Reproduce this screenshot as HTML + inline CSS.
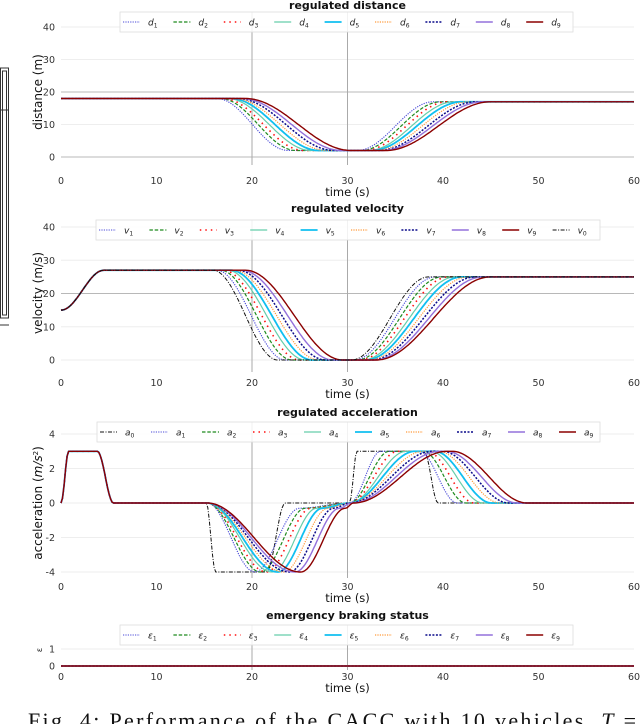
<!DOCTYPE html>
<html><head><meta charset="utf-8"><style>
html,body{margin:0;padding:0;background:#fff;width:640px;height:724px;overflow:hidden}
svg{display:block}
text{font-family:"DejaVu Sans","Liberation Sans",sans-serif}
</style></head><body>
<svg id="chart" width="640" height="724" viewBox="0 0 640 724">
<g fill="none" stroke="#333" stroke-width="1">
<rect x="0.5" y="68" width="8" height="250"/><rect x="2.5" y="71" width="4" height="244"/>
<line x1="0" y1="110" x2="9" y2="110"/><line x1="0" y1="325" x2="9" y2="325"/>
</g>
<text x="28" y="728" font-size="22" fill="#111" textLength="608" lengthAdjust="spacing" style="font-family:'Liberation Serif',serif">Fig. 4: Performance of the CACC with 10 vehicles, <tspan font-style="italic">T</tspan> =</text>
</svg>
<script>
// ---- data ----
const xTicks = [0,10,20,30,40,50,60];
const distTicks = [0,10,20,30,40];
const velTicks = [0,10,20,30,40];
const accTicks = [-4,-2,0,2,4];
const ebTicks = [0,1];
// distance: levels at key points, key times per vehicle d1..d9
const distLevels = [18,18,2,2,17,17];
const distKeyTimes = [
 [0,16.3,23.8,31.0,39.0,60],[0,16.7,24.6,31.4,39.8,60],[0,17.0,25.4,31.8,40.5,60],
 [0,17.4,26.2,32.2,41.2,60],[0,17.8,27.0,32.5,42.0,60],[0,18.1,27.8,32.9,42.7,60],
 [0,18.5,28.6,33.3,43.5,60],[0,18.9,29.4,33.6,44.2,60],[0,19.3,30.4,34.0,45.0,60]];
// velocity v1..v9 then v0
const velLevels = [15,27,27,0,0,25,25];
const velKeyTimes = [
 [0,4.5,16.3,23.5,30.7,39.2,60],[0,4.5,16.7,24.2,31.0,39.9,60],[0,4.5,17.0,25.0,31.3,40.6,60],
 [0,4.5,17.4,25.6,31.6,41.3,60],[0,4.5,17.8,26.3,31.9,42.0,60],[0,4.5,18.1,27.0,32.2,42.7,60],
 [0,4.5,18.5,27.7,32.5,43.4,60],[0,4.5,18.9,28.5,32.8,44.2,60],[0,4.5,19.3,29.5,33.0,45.0,60],
 [0,4.5,15.9,22.7,30.4,38.5,60]];
// acceleration: leader a0 has its own profile
const accLeaderLevels = [0,3,3,0,0,-4,-4,0,0,3,3,0,0];
const accLeaderTimes = [0,0.8,3.8,5.5,15.2,16.2,21.5,23.5,30.2,31.0,38.0,39.5,60];
// followers a1..a9
const accLevels = [0,3,3,0,0,-4,-0.3,0,3,3,0,0];
const accKeyTimes = [
 [0,0.8,3.8,5.5,15.3,20.3,25.0,30.2,33.5,37.5,41.5,60],
 [0,0.8,3.8,5.5,15.3,20.9,25.6,30.2,34.4,37.9,42.4,60],
 [0,0.8,3.8,5.5,15.3,21.5,26.2,30.2,35.3,38.3,43.3,60],
 [0,0.8,3.8,5.5,15.3,22.1,26.8,30.2,36.2,38.7,44.2,60],
 [0,0.8,3.8,5.5,15.3,22.7,27.4,30.2,37.1,39.1,45.1,60],
 [0,0.8,3.8,5.5,15.3,23.3,28.0,30.2,38.0,39.5,46.0,60],
 [0,0.8,3.8,5.5,15.3,23.9,28.6,30.2,38.9,39.9,46.9,60],
 [0,0.8,3.8,5.5,15.3,24.5,29.2,30.4,39.7,40.3,47.8,60],
 [0,0.8,3.8,5.5,15.3,25.1,29.8,30.6,40.5,40.9,48.8,60]];
const ebLevels = [0,0];
const ebKeyTimes = [0,60];

// ---- styles ----
const ST = {
 0:{c:'#111',w:1,d:'4,1.5,1,1.5'},1:{c:'#4848d8',w:1.1,d:'1.2,1.2'},2:{c:'#1f8a1f',w:1.2,d:'3.5,1.8'},
 3:{c:'#ff1010',w:1.6,d:'1.5,4'},4:{c:'#66cdaa',w:1.2,d:''},5:{c:'#10bff0',w:1.8,d:''},
 6:{c:'#ff9a3a',w:1.2,d:'1.2,1.2'},7:{c:'#0a0a8a',w:1.5,d:'2,1.5'},8:{c:'#9370db',w:1.4,d:''},9:{c:'#8b0000',w:1.4,d:''}};

const NS='http://www.w3.org/2000/svg';
const svg=document.getElementById('chart');
function el(tag,attrs,parent){const e=document.createElementNS(NS,tag);for(const k in attrs)e.setAttribute(k,attrs[k]);(parent||svg).appendChild(e);return e;}
const X0=61,X1=634;
function xs(t){return X0+(t/60)*(X1-X0);}
function curve(times,levels){
 const pts=[];
 for(let k=0;k<times.length-1;k++){
  const t0=times[k],t1=times[k+1],v0=levels[k],v1=levels[k+1];
  const n=Math.max(2,Math.ceil((t1-t0)*6));
  for(let j=0;j<n;j++){const u=j/n;pts.push([t0+(t1-t0)*u,v0+(v1-v0)*(1-Math.cos(Math.PI*u))/2]);}
 }
 pts.push([times[times.length-1],levels[levels.length-1]]);
 return pts;
}
function panel(o){
 const g=el('g',{});
 
 
 const ys=v=>o.y0-(v-o.vmin)*o.k;
 o.yticks.forEach(v=>{
  const l=el('line',{x1:X0,x2:X1,y1:ys(v),y2:ys(v),stroke:(o.dark.includes(v)?'#b8b8b8':'#eeeeee'),'stroke-width':1},g);
  
  
  const t=el('text',{x:55,y:ys(v)+3.5,'text-anchor':'end','font-size':9.5,fill:'#333'},g);
  t.textContent=v;
  
  
 });
 [20,30].forEach(v=>{
  const l=el('line',{x1:xs(v),x2:xs(v),y1:o.legY,y2:o.axB,stroke:'#aaa','stroke-width':1},g);
  
  
 });
 xTicks.forEach(v=>{
  const t=el('text',{x:xs(v),y:o.tickY,'text-anchor':'middle','font-size':9.5,fill:'#333'},g);
  t.textContent=v;
  
  
 });
 const xl=el('text',{x:xs(30),y:o.tickY+12,'text-anchor':'middle','font-size':11.5,fill:'#111'},g);
 xl.textContent='time (s)';
 
 
 const yl=el('text',{x:0,y:0,'text-anchor':'middle','font-size':o.ylSize||12,fill:'#111',transform:`translate(${o.ylX||42},${o.ylY}) rotate(-90)`},g);
 yl.innerHTML=o.ylabel;
 
 
 const ti=el('text',{x:xs(30),y:o.titleY,'text-anchor':'middle','font-size':11,'font-weight':'bold',fill:'#111'},g);
 ti.textContent=o.title;
 
 
 o.series.forEach((s,i)=>{
  const st=ST[s.style];
  const pts=curve(s.times,s.levels);
  const p=el('path',{d:'M'+pts.map(q=>xs(q[0]).toFixed(1)+','+ys(q[1]).toFixed(1)).join('L'),fill:'none',stroke:st.c,'stroke-width':st.w,'stroke-dasharray':st.d,'stroke-linejoin':'round'},g);
  
  
 });
 const lg=el('g',{},g);
 
 
 el('rect',{x:o.legX,y:o.legY,width:o.legW,height:20,fill:'#fff','fill-opacity':0.85,stroke:'#ddd','stroke-width':0.8},lg);
 o.series.forEach((s,i)=>{
  const st=ST[s.style];const lx=o.legX+3+i*o.legStep, ly=o.legY+10;
  const ln=el('line',{x1:lx,x2:lx+17,y1:ly,y2:ly,stroke:st.c,'stroke-width':st.w,'stroke-dasharray':st.d},lg);
  
  
  const tx=el('text',{x:lx+25,y:ly+3.5,'font-size':9,fill:'#222'},lg);
  tx.innerHTML=s.label;
  
  
 });
}
const sub=(a,n)=>`<tspan font-style="italic">${a}</tspan><tspan font-size="6" dy="2">${n}</tspan>`;
panel({name:'distance-panel',title:'regulated distance',titleY:9,y0:157,vmin:0,k:3.25,yticks:distTicks,dark:[0,20],
 tickY:184,ylabel:'distance (m)',ylY:92,legX:120,legY:12,legW:453,legStep:50.4,axB:165,
 series:distKeyTimes.map((t,i)=>({key:'d'+(i+1),style:i+1,times:t,levels:distLevels,label:sub('d',i+1)}))});
panel({name:'velocity-panel',title:'regulated velocity',titleY:212,y0:360,vmin:0,k:3.325,yticks:velTicks,dark:[20],
 tickY:386,ylabel:'velocity (m/s)',ylY:293,legX:96,legY:220,legW:504,legStep:50.4,axB:372,
 series:velKeyTimes.map((t,i)=>({key:'v'+(i<9?i+1:0),style:i<9?i+1:0,times:t,levels:velLevels,label:sub('v',i<9?i+1:0)}))});
const accSeries=[{key:'a0',style:0,times:accLeaderTimes,levels:accLeaderLevels,label:sub('a',0)}]
 .concat(accKeyTimes.map((t,i)=>({key:'a'+(i+1),style:i+1,times:t,levels:accLevels,label:sub('a',i+1)})));
panel({name:'acceleration-panel',title:'regulated acceleration',titleY:416,y0:572,vmin:-4,k:17.25,yticks:accTicks,dark:[],
 tickY:590,ylabel:'acceleration (<tspan font-style="italic">m/s</tspan><tspan font-size="7" dy="-4">2</tspan><tspan dy="4">)</tspan>',ylY:503,legX:97,legY:422,legW:503,legStep:51,axB:578,
 series:accSeries});
panel({name:'emergency-panel',title:'emergency braking status',titleY:619,y0:666,vmin:0,k:17,yticks:ebTicks,dark:[],
 tickY:680,ylabel:'ε',ylSize:8,ylY:650,legX:120,legY:625,legW:453,legStep:50.4,axB:670,
 series:[1,2,3,4,5,6,7,8,9].map(i=>({key:'eb'+i,style:i,times:ebKeyTimes,levels:ebLevels,label:'<tspan font-style="italic">ε</tspan><tspan font-size="6" dy="2">'+i+'</tspan>'}))});
</script>
</body></html>
